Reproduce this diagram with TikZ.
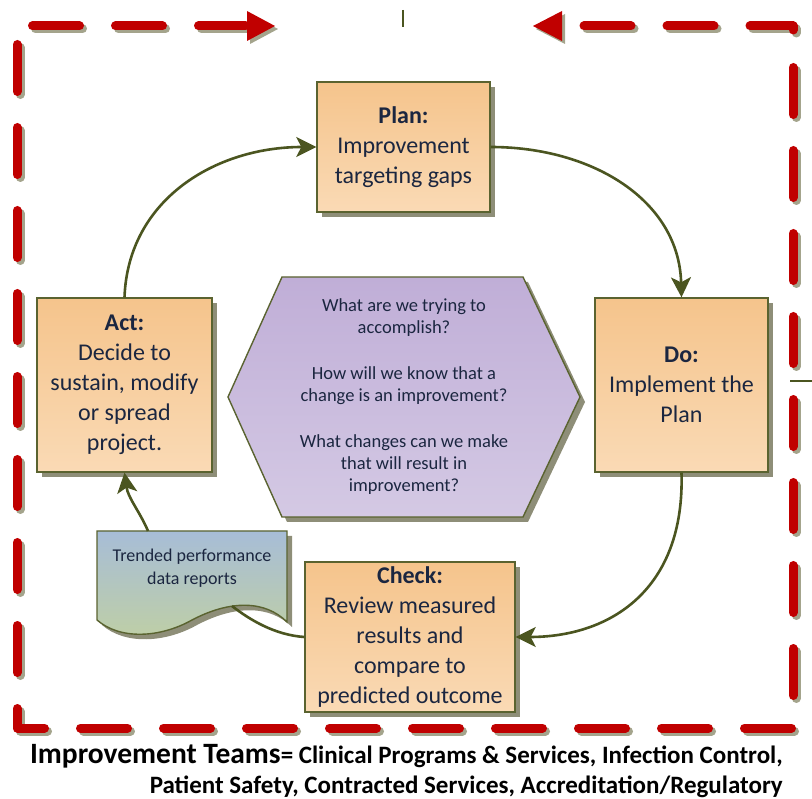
\documentclass[tikz,border=0pt]{standalone}
\usepackage{fontspec}
\setmainfont{Carlito}
\usetikzlibrary{arrows.meta,shadows}
\definecolor{boxtop}{HTML}{F5C48C}
\definecolor{boxbot}{HTML}{FADAB5}
\definecolor{boxline}{HTML}{5A6330}
\definecolor{shd}{HTML}{8E8E78}
\definecolor{lineol}{HTML}{4B5520}
\definecolor{txt}{HTML}{1B2640}
\definecolor{hextop}{HTML}{C0AED7}
\definecolor{hexbot}{HTML}{D4C9E4}
\definecolor{doctop}{HTML}{A7BDD7}
\definecolor{docbot}{HTML}{BFCFA5}
\definecolor{framered}{HTML}{C00000}
\definecolor{frameshd}{HTML}{A4A48C}
\newcommand\pdcaframe[1]{%
  \draw[#1,-{Triangle[length=28pt,width=30pt,line width=0pt]}] (32.5,26) -- (275,26);
  \draw[#1,-{Triangle[length=29pt,width=30pt,line width=0pt]}] (793,30) -- (793,26) -- (533,26);
  \draw[#1] (793,67.5) -- (793,695.5);
  \draw[#1] (17,44.5) -- (17,728) -- (795.5,728);
}
\begin{document}
\begin{tikzpicture}[x=1pt,y=-1pt,
  box/.style={draw=boxline, line width=1.4pt, top color=boxtop, bottom color=boxbot,
    inner sep=0pt, align=center, font=\fontsize{24}{30}\selectfont, text=txt,
    drop shadow={shadow xshift=5pt, shadow yshift=-5pt, fill=shd, opacity=1}},
  conn/.style={draw=lineol, line width=2.6pt, -{Stealth[length=20pt,width=20pt,inset=5pt]}},
  plainline/.style={draw=lineol, line width=2.6pt},
  fr/.style={line width=9pt, line cap=round, line join=round, dash pattern=on 47pt off 36pt},
  frred/.style={fr, draw=framered},
  frshd/.style={fr, draw=frameshd},
  hexshape/.style={draw=boxline, line width=1.4pt, top color=hextop, bottom color=hexbot},
  docshape/.style={draw=boxline, line width=1.4pt, top color=doctop, bottom color=docbot},
  stray/.style={draw=lineol, line width=2.2pt}
]
\useasboundingbox (0,0) rectangle (812,799);

% frame
\begin{scope}[shift={(3,3)}]
  \pdcaframe{frshd}
\end{scope}
\pdcaframe{frred}

% stray marks
\draw[stray] (403,10) -- (403,27);
\draw[stray] (790,381) -- (812,381);

% hexagon
\fill[shd] (233,402) -- (287,282) -- (528,282) -- (585,402) -- (528,522) -- (287,522) -- cycle;
\shade[hexshape] (228,397) -- (282,277) -- (523,277) -- (580,397) -- (523,517) -- (282,517) -- cycle;
\node[align=center, text=txt, font=\fontsize{18.5}{22}\selectfont] (hex) at (404,397)
  {What are we trying to\\accomplish?\\[24pt]How will we know that a\\change is an improvement?\\[24pt]What changes can we make\\that will result in\\improvement?};

% document shape
\fill[shd] (102,536) -- (292,536) -- (292,627) .. controls (270,605) and (235,605) .. (197,625) .. controls (165,643) and (125,645) .. (102,625) -- cycle;
\shade[docshape] (97,531) -- (287,531) -- (287,622) .. controls (265,600) and (230,600) .. (192,620) .. controls (160,638) and (120,640) .. (97,620) -- cycle;
\node[align=center, text=txt, font=\fontsize{18}{23}\selectfont] (doc) at (192,568)
  {Trended performance\\data reports};
\coordinate (doctop) at (148,531);
\coordinate (docwave) at (232,606);

% boxes
\node[box, minimum width=173pt, minimum height=130pt] (plan) at (403.5,147)
  {\textbf{Plan:}\\Improvement\\targeting gaps};
\node[box, minimum width=173pt, minimum height=174pt] (do) at (681.5,385)
  {\textbf{Do:}\\Implement the\\Plan};
\node[box, minimum width=210pt, minimum height=150pt] (check) at (410,637)
  {\textbf{Check:}\\Review measured\\results and\\compare to\\predicted outcome};
\node[box, minimum width=175pt, minimum height=174pt] (act) at (124.5,385)
  {\textbf{Act:}\\Decide to\\sustain, modify\\or spread\\project.};

% connectors
\draw[conn] (act.north) .. controls (128,200) and (215,147) .. (plan.west);
\draw[conn] (plan.east) .. controls (592,147) and (679,200) .. (do.north);
\draw[conn] (do.south) .. controls (685,590) and (610,637) .. (check.east);
\draw[plainline] (check.west) .. controls (275,635) and (250,620) .. (docwave);
\draw[conn] (doctop) .. controls (140,512) and (128,498) .. (act.south);

% bottom text
\node[anchor=base east, inner sep=0pt, text=black] (teams1) at (783,763)
  {{\fontsize{29.5}{29.5}\selectfont\bfseries Improvement Teams}{\fontsize{25}{25}\selectfont\bfseries = Clinical Programs \& Services, Infection Control,}};
\node[anchor=base east, inner sep=0pt, text=black] (teams2) at (783,793)
  {\fontsize{25}{25}\selectfont\bfseries Patient Safety, Contracted Services, Accreditation/Regulatory};
\end{tikzpicture}
\end{document}
